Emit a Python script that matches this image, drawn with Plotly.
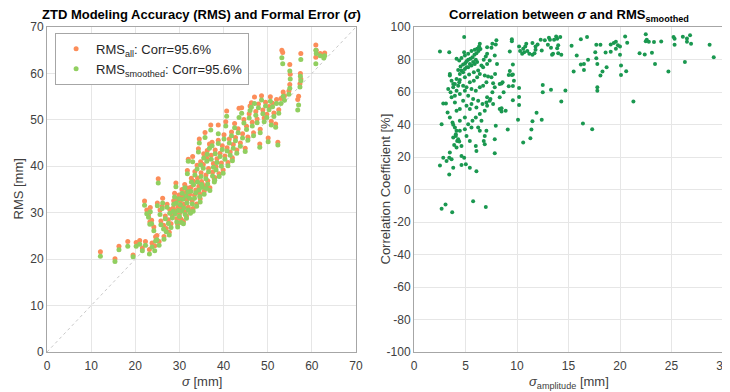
import plotly.graph_objects as go

# ---------------- Left panel data ----------------
sigma = [12.1,15.4,16.3,18.3,19.5,20.2,21.0,21.6,22.3,23.2,23.8,24.4,24.9,22.1,22.6,23.4,23.0,23.3,23.7,24.2,
         24.6,25.0,25.2,26.2,26.1,25.6,25.8,26.4,26.8,27.2,27.0,27.5,27.8,28.1,28.4,28.7,28.9,29.2,29.0,29.4,
         29.7,30.0,30.2,30.5,30.8,30.4,31.0,31.3,31.5,31.8,31.7,32.0,32.0,32.3,32.6,32.5,32.9,33.0,33.2,33.4,
         33.7,33.9,34.1,34.3,34.5,34.4,34.7,34.9,35.2,35.4,35.6,35.8,36.0,36.2,36.4,36.6,36.8,36.9,37.1,37.2,
         37.5,37.7,37.9,38.1,38.3,38.5,38.8,38.8,39.0,39.2,39.5,39.7,39.9,40.1,40.3,40.5,40.7,40.8,41.0,41.3,
         41.5,41.8,42.0,42.2,42.5,42.7,43.0,43.3,43.5,43.8,44.1,44.3,44.6,44.9,45.2,45.5,45.8,46.0,46.3,46.5,
         46.8,47.0,47.3,47.6,47.9,48.2,48.3,48.6,48.9,49.2,49.5,49.8,50.1,50.3,50.6,50.8,51.1,51.4,51.8,52.0,
         52.3,52.5,53.0,53.2,53.4,53.5,53.8,55.0,55.1,55.0,54.8,57.5,57.4,57.5,57.3,57.0,56.8,60.9,61.0,60.9,
         61.9,62.9,62.7,28.6,29.3,29.9,30.6,31.2,31.9,32.7,33.5,34.0,34.8,35.5,36.3,37.4,35.0,33.1,31.6,30.9,
         29.6,27.7,26.5,25.4,34.6,36.1,38.0]
rms_all = [21.6,20.1,22.8,23.8,20.9,23.6,24.0,22.4,23.8,22.1,23.5,22.9,25.1,32.5,30.6,31.1,29.6,28.0,28.4,26.9,
           24.8,32.1,37.3,33.1,31.4,30.6,28.2,27.3,29.3,31.8,26.6,28.5,30.7,27.6,29.4,32.6,34.2,36.4,30.5,28.7,
           31.3,29.8,32.5,30.9,33.6,28.6,31.8,30.1,34.4,39.1,32.8,31.2,41.5,33.9,35.5,30.4,32.6,42.1,36.8,33.8,
           34.9,31.9,37.5,43.8,45.9,35.7,33.0,38.6,36.2,40.4,34.6,47.3,38.1,41.8,36.9,39.5,44.8,35.4,48.9,42.4,
           38.7,40.6,37.3,43.5,39.9,41.6,48.9,45.6,38.4,42.8,40.7,44.4,39.2,46.8,42.2,49.6,51.9,44.0,40.8,45.9,
           43.1,47.4,41.8,44.7,49.2,46.2,43.5,48.1,52.5,45.0,52.6,47.0,50.1,43.9,48.6,46.3,51.3,53.0,53.7,49.5,
           47.2,54.9,51.8,50.2,53.4,44.8,48.0,55.2,52.1,50.4,53.8,51.2,46.1,52.9,55.0,49.7,53.6,51.5,49.1,54.4,
           45.2,52.2,54.6,65.0,64.5,56.0,55.2,61.9,59.8,57.6,56.2,64.3,60.0,58.8,57.8,55.1,54.4,66.1,65.0,63.5,
           64.3,64.4,64.0,31.0,32.9,33.8,35.0,36.1,35.3,37.4,38.9,40.2,41.0,42.7,43.4,45.2,36.7,30.9,29.3,28.1,
           27.5,25.8,24.9,23.8,34.1,35.8,37.6]
rms_smoothed = [20.6,19.5,22.0,22.8,20.5,22.8,23.2,21.8,23.0,21.1,22.6,21.8,24.2,31.6,29.8,30.2,29.0,27.5,27.6,26.1,
                23.9,31.5,36.4,32.1,30.9,29.6,27.4,26.5,28.7,31.2,25.9,27.7,29.9,26.8,28.9,31.8,33.4,35.6,29.8,28.0,
                30.5,29.2,31.7,30.3,32.9,27.9,31.0,29.6,33.6,38.4,32.1,30.6,41.1,33.1,34.6,29.9,31.9,41.0,36.0,33.1,
                34.3,31.4,36.6,43.1,45.0,34.9,32.3,37.8,35.5,39.6,34.0,46.2,37.3,41.1,36.2,38.8,43.9,34.8,47.8,41.5,
                37.9,39.8,36.6,42.7,39.2,40.8,47.0,44.9,37.8,42.1,40.0,43.6,38.5,45.9,41.5,48.7,50.8,43.3,40.1,45.0,
                42.4,46.6,41.2,43.9,48.3,45.5,42.8,47.2,50.5,44.3,51.4,46.1,49.3,43.2,47.9,45.6,50.4,52.0,52.7,48.7,
                46.6,53.5,51.0,49.4,52.6,44.1,47.2,54.3,51.3,49.6,53.0,50.5,45.3,52.2,54.0,48.9,52.8,50.7,48.4,53.5,
                44.6,51.4,53.5,63.4,62.1,55.1,54.2,60.5,58.8,56.8,55.5,63.0,59.4,58.4,57.1,53.2,52.1,65.0,64.3,62.1,
                63.8,63.8,63.3,30.3,32.1,33.0,34.2,35.4,34.5,36.6,38.1,39.4,40.3,41.8,42.6,44.4,36.1,30.3,28.8,27.6,
                26.9,25.2,24.3,23.0,33.5,35.2,37.0]

# ---------------- Right panel data ----------------
sigma_amp = [4.87,2.52,3.42,4.87,6.39,6.32,6.45,6.26,6.06,5.87,5.68,5.48,5.26,5.10,4.97,4.77,4.52,4.29,4.61,5.26,
             5.58,5.90,6.13,6.00,5.74,5.42,5.10,4.94,4.77,4.45,4.13,4.45,4.94,5.35,5.81,6.23,6.71,7.10,7.35,6.97,
             7.52,7.61,7.10,8.00,7.94,7.84,7.10,6.77,6.55,6.39,6.87,7.19,7.03,6.71,6.39,6.00,5.58,5.10,4.77,4.39,
             3.97,3.65,3.48,3.48,3.81,4.13,4.45,4.94,5.26,5.74,6.23,6.65,7.10,7.42,7.61,7.84,7.68,6.87,6.39,6.00,
             5.68,5.26,4.94,4.45,4.06,3.81,4.19,4.61,4.13,3.48,3.42,3.16,3.65,4.61,4.87,5.03,4.61,5.42,3.81,2.84,
             2.52,3.42,6.06,5.74,2.68,3.06,3.71,6.97,2.68,2.84,3.10,3.26,3.48,3.74,3.81,3.97,4.13,4.06,4.29,3.90,
             4.39,8.06,7.87,7.52,7.68,7.10,7.35,7.03,8.32,8.32,8.32,7.94,7.84,7.84,7.03,6.87,6.77,6.87,6.06,6.00,
             6.39,5.42,5.81,6.13,5.58,5.10,4.77,4.45,4.13,5.42,6.06,6.55,6.23,5.58,5.10,5.42,4.94,4.45,3.97,3.65,
             3.97,4.29,3.81,3.55,3.32,4.13,4.39,4.61,4.94,5.26,5.58,5.90,6.13,
             9.5,9.5,9.3,9.6,9.3,9.2,9.5,9.6,8.6,8.5,9.7,9.6,8.7,9.2,9.6,8.5,8.9,8.5,9.1,
             10.2,10.2,10.2,11.4,10.1,11.5,12.4,11.9,14.3,14.7,13.3,12.5,12.5,10.6,11.3,16.4,17.3,21.3,17.8,17.8,
             10.2,10.3,10.5,10.6,10.7,10.8,10.9,11.0,11.2,11.5,11.5,11.7,11.8,11.8,12.0,12.3,12.4,12.7,13.0,13.1,
             13.2,13.3,13.4,13.5,13.6,13.8,13.9,13.9,14.0,14.0,14.2,14.3,15.3,15.8,16.2,16.8,16.2,16.9,16.5,15.5,
             16.5,17.7,17.8,17.7,18.1,17.6,18.1,18.3,18.6,18.7,19.1,19.1,19.4,19.6,19.6,19.8,20.0,20.1,20.1,20.6,
             20.5,20.7,20.0,21.9,22.4,22.5,22.6,22.8,22.5,23.1,23.3,23.4,24.0,24.7,25.2,25.3,25.3,26.1,26.5,26.5,
             26.8,26.9,26.3,28.7,29.1]
corr = [93.8,85.0,84.5,84.5,89.7,88.0,86.4,85.2,83.9,82.9,81.4,80.4,79.8,79.0,77.7,76.9,75.7,73.6,73.2,75.3,
        76.3,77.3,78.4,79.8,78.4,77.3,75.3,74.2,72.2,71.1,68.0,67.4,69.1,70.7,72.2,73.2,75.3,77.3,79.4,81.9,
        87.2,89.7,87.6,91.8,89.3,82.5,83.5,79.8,76.3,71.1,70.1,69.5,66.0,63.9,62.9,60.8,61.9,62.9,63.9,66.0,
        64.9,67.0,71.1,70.1,62.9,60.8,58.8,60.8,57.7,55.7,54.6,52.6,51.5,55.7,59.8,62.9,52.6,48.5,46.4,44.3,
        42.3,40.2,37.1,36.1,34.0,32.0,29.9,26.8,25.8,22.7,19.6,17.5,18.6,20.6,19.6,15.5,15.1,13.4,13.4,19.6,
        14.8,9.3,11.3,-7.2,-11.8,-9.3,-14.0,-10.7,40.2,53.0,53.0,47.4,44.3,41.2,39.8,38.1,36.1,33.0,30.9,27.4,
        29.5,77.3,71.1,69.1,65.4,56.7,54.6,53.6,56.7,64.9,49.5,39.2,30.9,22.3,36.1,33.0,29.9,27.8,23.7,26.8,
        36.1,66.0,67.0,69.1,52.6,51.5,54.6,49.5,48.5,49.5,50.5,42.3,38.1,38.1,33.0,29.9,44.3,42.3,53.6,56.7,
        57.7,63.9,64.9,59.8,61.9,80.4,79.4,81.0,82.5,83.5,85.2,86.0,86.6,
        92.4,91.3,85.0,77.0,73.0,70.5,70.5,70.7,66.0,65.2,67.0,63.7,59.8,63.5,55.0,50.0,48.5,48.0,37.0,
        62.5,57.0,52.0,37.0,43.0,42.0,43.0,47.2,54.2,61.0,61.4,59.8,64.3,28.9,31.5,40.6,37.1,54.2,62.9,60.8,
        88.0,85.2,83.5,86.6,84.5,88.0,89.7,85.2,83.5,82.9,90.1,83.9,88.0,86.0,89.3,92.2,85.6,91.8,89.1,93.4,
        92.2,87.2,82.9,83.5,92.2,94.2,92.8,87.0,83.9,88.7,93.8,82.9,88.5,82.5,92.4,93.8,76.9,79.8,77.3,72.6,
        73.6,89.1,77.3,80.8,70.1,84.5,89.1,72.6,84.3,75.3,89.3,84.7,90.1,90.9,86.6,88.7,82.9,76.3,70.5,72.8,
        94.2,90.3,88.0,83.9,83.1,95.5,92.2,90.9,91.3,84.1,90.7,77.3,91.1,72.6,93.8,92.8,89.1,94.0,93.0,90.9,
        95.0,89.7,78.4,89.1,81.4]

diag = [0, 70]

# tick labels
left_ticks = [0, 10, 20, 30, 40, 50, 60, 70]
right_x_ticks = [0, 5, 10, 15, 20, 25, 30]
right_y_ticks = [-100, -80, -60, -40, -20, 0, 20, 40, 60, 80, 100]
right_y_labels = ["-100", "-80", "-60", "-40", "-20", "0", "20", "40", "60", "80", "100"]

ORANGE = "#FC8D59"
LGREEN = "#91CF60"
DGREEN = "#1A9850"
FONT = "Liberation Sans, Arial, sans-serif"
TXT = "#404040"

fig = go.Figure()

fig.add_trace(go.Scatter(x=diag, y=diag, mode="lines", xaxis="x", yaxis="y",
                         line=dict(color="#c8c8c8", width=1, dash="dot"),
                         showlegend=False, hoverinfo="skip"))
fig.add_trace(go.Scatter(x=sigma, y=rms_all, mode="markers", xaxis="x", yaxis="y",
                         marker=dict(color=ORANGE, size=5),
                         name="RMS<sub>all</sub>: Corr=95.6%"))
fig.add_trace(go.Scatter(x=sigma, y=rms_smoothed, mode="markers", xaxis="x", yaxis="y",
                         marker=dict(color=LGREEN, size=5),
                         name="RMS<sub>smoothed</sub>: Corr=95.6%"))
fig.add_trace(go.Scatter(x=sigma_amp, y=corr, mode="markers", xaxis="x2", yaxis="y2",
                         marker=dict(color=DGREEN, size=4), showlegend=False))

axis_common = dict(showline=True, mirror=True, linecolor="#a6a6a6", linewidth=1,
                   showgrid=True, gridcolor="#e6e6e6", gridwidth=1, zeroline=False,
                   ticks="", automargin=False,
                   tickfont=dict(size=12, color=TXT, family=FONT))

d1 = 309 / 676
d2 = 367 / 676

def ann(text, x, y, angle=0, size=13, color=TXT):
    return dict(text=text, x=x, y=y, xref="paper", yref="paper", xanchor="center", yanchor="middle",
                showarrow=False, textangle=angle, font=dict(size=size, color=color, family=FONT))

# page body has an 8px margin, so the figure is offset by 8px
fig.update_layout(
    width=730, height=384,
    margin=dict(l=39, r=15, t=19, b=40, autoexpand=False),
    paper_bgcolor="white", plot_bgcolor="white",
    font=dict(family=FONT, color=TXT),
    xaxis=dict(domain=[0, d1], range=[0, 70], tickmode="array", tickvals=left_ticks,
               ticklabelstandoff=3, **axis_common),
    yaxis=dict(domain=[0, 1], range=[0, 70], tickmode="array", tickvals=left_ticks, **axis_common),
    xaxis2=dict(domain=[d2, 1], range=[0, 30], anchor="y2", tickmode="array", tickvals=right_x_ticks,
                ticklabelstandoff=3, **axis_common),
    yaxis2=dict(domain=[0, 1], range=[-100, 100], anchor="x2", tickmode="array",
                tickvals=right_y_ticks, ticktext=right_y_labels, **axis_common),
    legend=dict(x=0.012, y=0.982, xanchor="left", yanchor="top",
                bgcolor="white", bordercolor="#a6a6a6", borderwidth=1,
                font=dict(size=13, color="#262626", family=FONT), tracegroupgap=0,
                itemwidth=30),
    annotations=[
        dict(text="<b>ZTD Modeling Accuracy (RMS) and Formal Error (<i>σ</i>)</b>", x=d1 / 2, y=1.0,
             xref="paper", yref="paper", xanchor="center", yanchor="bottom", yshift=3, showarrow=False,
             font=dict(size=13, color="#000000", family=FONT)),
        dict(text="<b>Correlation between <i>σ</i> and RMS<sub>smoothed</sub></b>", x=(d2 + 1) / 2, y=1.0,
             xref="paper", yref="paper", xanchor="center", yanchor="bottom", yshift=1, showarrow=False,
             font=dict(size=13, color="#000000", family=FONT)),
        ann("RMS [mm]", (18 - 47) / 676, 0.5, angle=-90),
        ann("<i>σ</i> [mm]", d1 / 2, (352 - 381) / 325),
        ann("Correlation Coefficient [%]", (385 - 47) / 676, 0.5, angle=-90),
        ann("<i>σ</i><sub>amplitude</sub> [mm]", (d2 + 1) / 2, (352 - 382) / 325),
    ],
)

fig.write_html("out.html")
